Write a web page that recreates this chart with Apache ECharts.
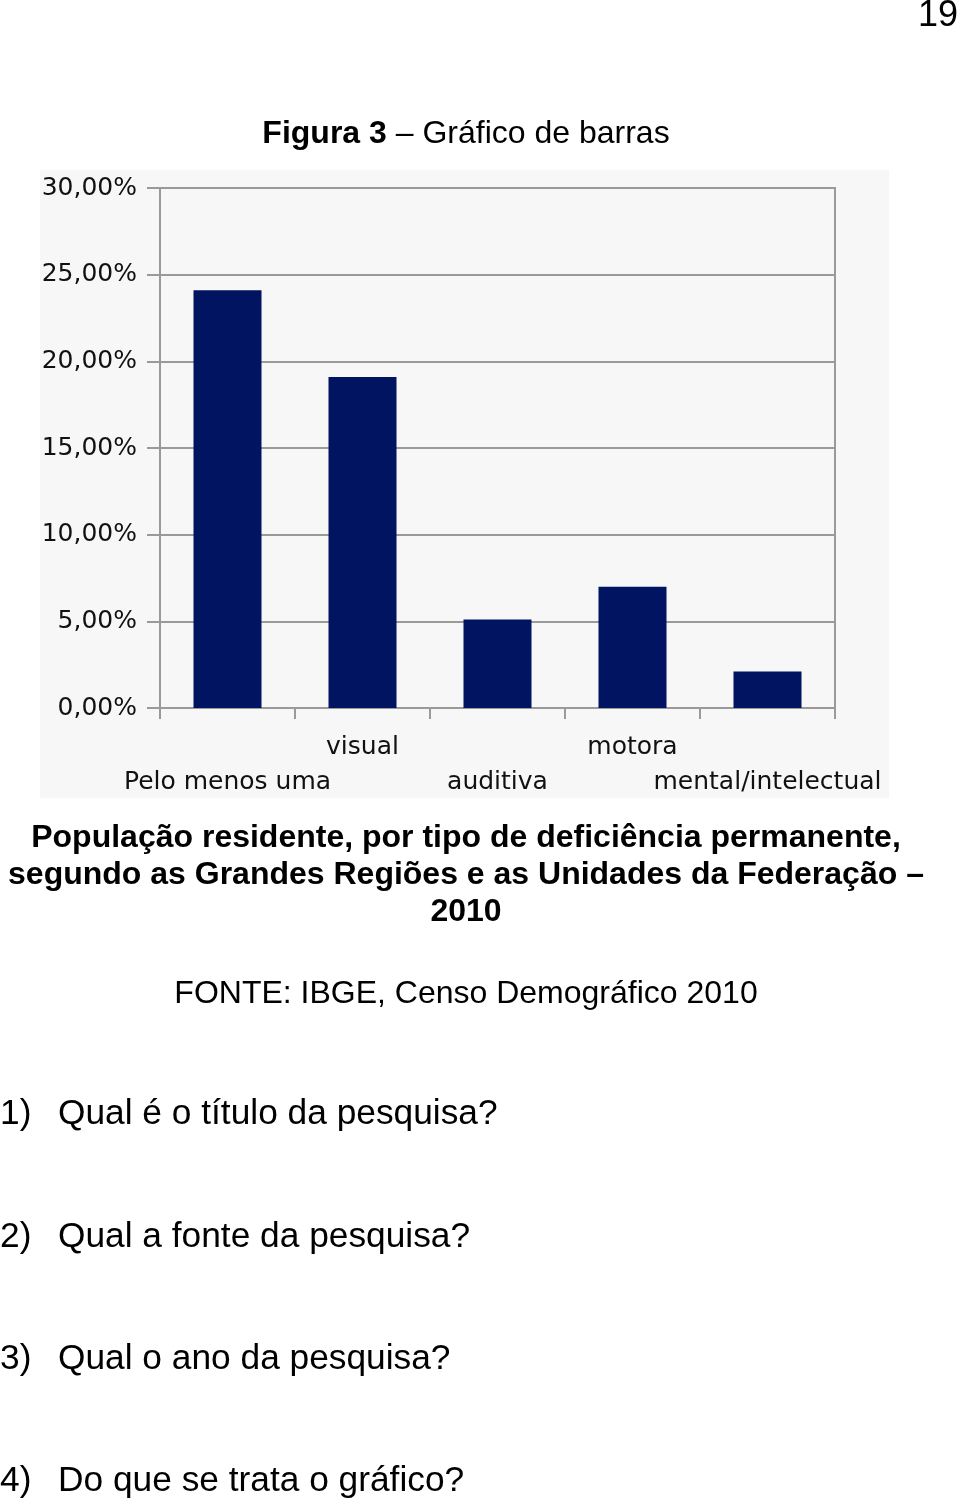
<!DOCTYPE html>
<html>
<head>
<meta charset="utf-8">
<script src="https://cdn.jsdelivr.net/npm/echarts@6/dist/echarts.min.js"></script>
<style>
  html, body { margin: 0; padding: 0; background: #fff; }
  #page { position: relative; width: 960px; height: 1499px; overflow: hidden; }
  #chart { position: absolute; left: 0; top: 0; width: 960px; height: 1499px; }
  .t { position: absolute; font-family: "Liberation Sans", Arial, sans-serif; color: #000; white-space: nowrap; }
  .q { position: absolute; font-family: "Liberation Sans", Arial, sans-serif; color: #000; white-space: nowrap; font-size: 35.3px; line-height: 38px; }
</style>
</head>
<body>
<div id="page">
  <div id="chart"></div>
  <div class="t" style="right:2px; top:-4px; font-size:36px; line-height:36px;">19</div>
  <div class="t" style="left:0; width:932px; text-align:center; top:116px; font-size:32px; line-height:32px;"><b>Figura 3</b> – Gráfico de barras</div>
  <div class="t" style="left:0; width:932px; text-align:center; top:818px; font-size:32px; line-height:37px; font-weight:bold;">População residente, por tipo de deficiência permanente,<br>segundo as Grandes Regiões e as Unidades da Federação –<br>2010</div>
  <div class="t" style="left:0; width:932px; text-align:center; top:975px; font-size:32px; line-height:34px;">FONTE: IBGE, Censo Demográfico 2010</div>
  <div class="q" style="left:0; top:1093px;">1)</div><div class="q" style="left:58px; top:1093px;">Qual é o título da pesquisa?</div>
  <div class="q" style="left:0; top:1216px;">2)</div><div class="q" style="left:58px; top:1216px;">Qual a fonte da pesquisa?</div>
  <div class="q" style="left:0; top:1338px;">3)</div><div class="q" style="left:58px; top:1338px;">Qual o ano da pesquisa?</div>
  <div class="q" style="left:0; top:1460px;">4)</div><div class="q" style="left:58px; top:1460px;">Do que se trata o gráfico?</div>
</div>
<script>
const categories = ["Pelo menos uma", "visual", "auditiva", "motora", "mental/intelectual"];
const values = [24.1, 19.1, 5.1, 7.0, 2.1];
const yTicks = [0, 5, 10, 15, 20, 25, 30];

const chart = echarts.init(document.getElementById('chart'), null, { renderer: 'canvas' });
const gridColor = '#9a9a9a';
chart.setOption({
  animation: false,
  backgroundColor: 'transparent',
  graphic: [{
    type: 'rect', z: -10, silent: true,
    shape: { x: 40, y: 170, width: 849, height: 628 },
    style: { fill: '#f7f7f7' }
  }],
  grid: {
    left: 160, top: 188, width: 675, height: 520,
    show: true, borderColor: gridColor, borderWidth: 2, backgroundColor: 'transparent'
  },
  xAxis: {
    type: 'category',
    data: categories,
    boundaryGap: true,
    axisLine: { lineStyle: { color: gridColor, width: 2 } },
    axisTick: { show: true, length: 11, alignWithLabel: false, lineStyle: { color: gridColor, width: 2 } },
    axisLabel: {
      interval: 0,
      margin: 22,
      color: '#111',
      fontFamily: 'DejaVu Sans',
      fontSize: 25,
      lineHeight: 35,
      verticalAlign: 'top',
      formatter: function (v, i) { return i % 2 === 1 ? v : '\n' + v; }
    },
    splitLine: { show: false }
  },
  yAxis: {
    type: 'value',
    min: yTicks[0], max: yTicks[yTicks.length - 1], interval: 5,
    axisLine: { show: true, lineStyle: { color: gridColor, width: 2 } },
    axisTick: { show: true, length: 13, lineStyle: { color: gridColor, width: 2 } },
    axisLabel: {
      margin: 23,
      color: '#111',
      fontFamily: 'DejaVu Sans',
      fontSize: 25,
      formatter: function (v) { return v.toFixed(2).replace('.', ',') + '%'; }
    },
    splitLine: { show: true, lineStyle: { color: gridColor, width: 2 } }
  },
  series: [{
    type: 'bar',
    data: values,
    barWidth: 68,
    itemStyle: { color: '#001462' }
  }]
});
</script>
</body>
</html>
